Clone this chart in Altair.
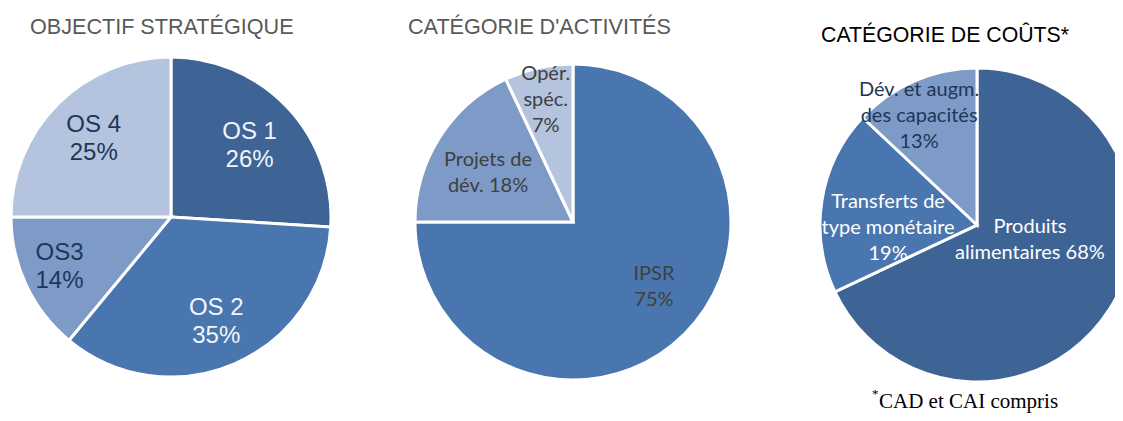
import altair as alt
import pandas as pd

# ---------------- data ----------------
os_names = ["OS 1", "OS 2", "OS3", "OS 4"]
os_values = [26, 35, 14, 25]

act_names = ["IPSR", "Projets de\ndév.", "Opér.\nspéc."]
act_values = [75, 18, 7]
act_join = ["\n", " ", "\n"]

cost_names = ["Produits\nalimentaires", "Transferts de\ntype monétaire", "Dév. et augm.\ndes capacités"]
cost_values = [68, 19, 13]
cost_join = [" ", "\n", "\n"]

titles = ["OBJECTIF STRATÉGIQUE", "CATÉGORIE D'ACTIVITÉS", "CATÉGORIE DE COÛTS*"]
footnote = "CAD et CAI compris"

# ---------------- styles ----------------
DARK, MID, LIGHT, PALE = "#3E6496", "#4976AF", "#7E9BC8", "#B4C3DE"
os_fill = [DARK, MID, LIGHT, PALE]
os_text = ["#F2F5FA", "#F2F5FA", "#1F3658", "#1F3658"]
os_lr = [106, 114, 122, 110]      # label distance from centre (px)
os_nudge = [0.3, 0, 0.35, 0.1]    # label angle nudge (pie % units)

act_fill = [MID, LIGHT, PALE]
act_text = ["#404040", "#404040", "#404040"]
act_lr = [104, 98, 125]
act_nudge = [-1.7, -0.7, 0]

cost_fill = [DARK, MID, LIGHT]
cost_text = ["#FFFFFF", "#FFFFFF", "#1F3658"]
cost_lr = [55, 89, 123]
cost_nudge = [-4.6, -3.0, -1.3]

M = 8  # page margin


def build(names, values, joins, fills, tcols, lrs, nudges):
    rows = []
    for i, (n, v) in enumerate(zip(names, values)):
        t = n + joins[i] + f"{v}%"
        rows.append(dict(idx=i, name=n, value=v, text=t,
                         nlines=t.count("\n") + 1,
                         fill=fills[i], tcol=tcols[i], lr=lrs[i], nudge=nudges[i]))
    return pd.DataFrame(rows)


def pie(df, cx, cy, r, font, size, lh):
    arc = alt.Chart(df).mark_arc(outerRadius=r, stroke="white", strokeWidth=3).encode(
        theta=alt.Theta("value:Q", stack=True, scale=alt.Scale(domain=[0, 100])),
        order=alt.Order("idx:Q", sort="ascending"),
        x=alt.value(cx - M), y=alt.value(cy - M),
        fill=alt.Fill("fill:N", scale=None),
    )
    layers = [arc]
    for n in sorted(df["nlines"].unique()):
        txt = alt.Chart(df).transform_window(
            cum="sum(value)", sort=[alt.SortField("idx", order="ascending")],
            frame=[None, 0],
        ).transform_calculate(
            mid="datum.cum - datum.value / 2 + datum.nudge"
        ).transform_filter(
            f"datum.nlines == {int(n)}"
        ).mark_text(font=font, fontSize=size, lineBreak="\n", lineHeight=lh,
                    align="center", baseline="middle",
                    dy=-(int(n) - 1) * lh / 2).encode(
            theta=alt.Theta("mid:Q", stack=None, scale=alt.Scale(domain=[0, 100])),
            x=alt.value(cx - M), y=alt.value(cy - M),
            radius=alt.Radius("lr:Q", scale=None),
            text="text:N",
            color=alt.Color("tcol:N", scale=None),
        )
        layers.append(txt)
    return alt.layer(*layers)


d1 = build(os_names, os_values, ["\n"] * 4, os_fill, os_text, os_lr, os_nudge)
d2 = build(act_names, act_values, act_join, act_fill, act_text, act_lr, act_nudge)
d3 = build(cost_names, cost_values, cost_join, cost_fill, cost_text, cost_lr, cost_nudge)

p1 = pie(d1, 171, 217, 160, "Liberation Sans", 24, 28)
p2 = pie(d2, 573, 222, 158, "Lato", 20, 26)
p3 = pie(d3, 977, 225, 157, "Lato", 20, 26)


def label(text, x, y, font, size, color, align="left"):
    return alt.Chart(pd.DataFrame({"t": [text]})).mark_text(
        font=font, fontSize=size, color=color, align=align, baseline="alphabetic"
    ).encode(text="t:N", x=alt.value(x - M), y=alt.value(y - M))


t1 = label(titles[0], 30, 34, "Liberation Sans", 21.6, "#595959")
t2 = label(titles[1], 408, 34, "Liberation Sans", 21.6, "#595959")
t3 = label(titles[2], 821, 42, "Liberation Sans", 21.3, "#000000")
f1 = label("*", 872, 398, "Liberation Serif", 13, "#000000")
f2 = label(footnote, 879, 408, "Liberation Serif", 21, "#000000")

chart = alt.layer(p1, p2, p3, t1, t2, t3, f1, f2).properties(
    width=1107, height=405, padding=0, autosize="none"
).configure_view(stroke=None)

chart.save("out.html", embed_options={"renderer": "svg", "actions": False})
